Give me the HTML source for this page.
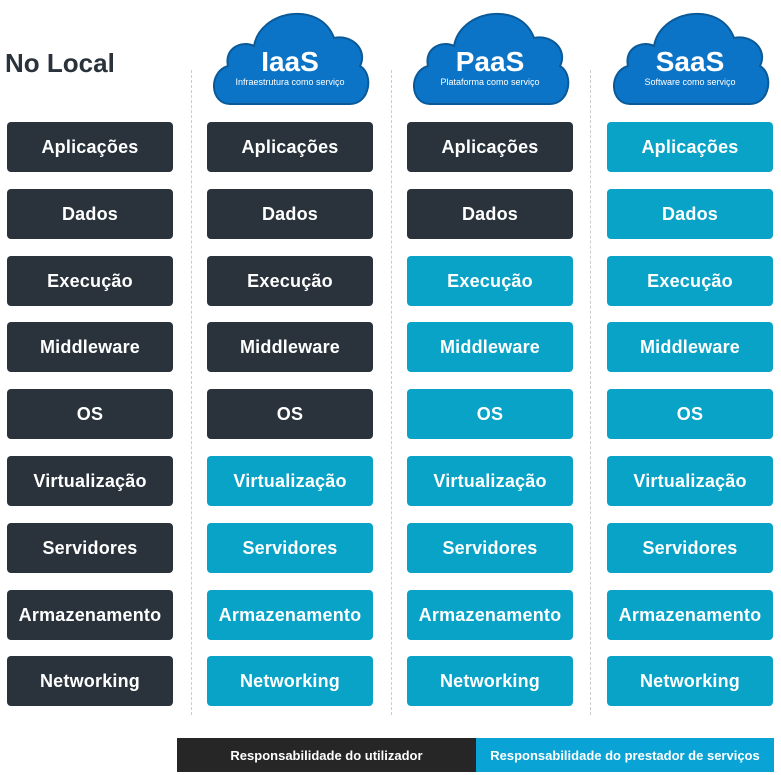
<!DOCTYPE html>
<html><head><meta charset="utf-8"><style>
body{margin:0;width:781px;height:775px;background:#fff;position:relative;overflow:hidden;font-family:"Liberation Sans","DejaVu Sans",sans-serif}
.b{position:absolute;width:166px;height:50px;border-radius:4px;color:#fff;font-weight:bold;font-size:18px;display:flex;align-items:center;justify-content:center;letter-spacing:0.2px}
.d{background:#2a333b}.l{background:#0aa3c8}
.v{position:absolute;top:70px;height:645px;border-left:1px dashed #ccc}
.nl{position:absolute;left:5px;top:48px;font-size:26px;font-weight:bold;color:#2a333b}
.leg{position:absolute;top:738px;height:34px;display:flex;align-items:center;justify-content:center;color:#fff;font-weight:bold;font-size:13px}
</style></head><body>
<div class="nl">No Local</div>
<div class="v" style="left:191px"></div><div class="v" style="left:391px"></div><div class="v" style="left:590px"></div>
<svg style="position:absolute;left:0;top:0" width="781" height="110">
<defs><g id="c"><path d="M-60,100 C-80,100 -82,68 -62,62 C-66,44 -48,36 -36,42 C-30,6 30,-4 44,34 C62,30 78,46 70,62 C84,70 80,100 60,100 Z" fill="#0b74c6" stroke="#0a5a9a" stroke-width="2"/></g></defs>
<use href="#c" x="290" y="4"/><use href="#c" x="490" y="4"/><use href="#c" x="690" y="4"/>
<g fill="#fff" font-family="Liberation Sans,sans-serif" text-anchor="middle">
<text x="290" y="71" font-size="28" font-weight="bold">IaaS</text><text x="290" y="85" font-size="9">Infraestrutura como serviço</text>
<text x="490" y="71" font-size="28" font-weight="bold">PaaS</text><text x="490" y="85" font-size="9">Plataforma como serviço</text>
<text x="690" y="71" font-size="28" font-weight="bold">SaaS</text><text x="690" y="85" font-size="9">Software como serviço</text>
</g></svg>
<div id="g"></div>
<div class="leg" style="left:177px;width:299px;background:#262626">Responsabilidade do utilizador</div>
<div class="leg" style="left:476px;width:298px;background:#0aa3d6">Responsabilidade do prestador de serviços</div>
<script>
var rows=["Aplicações","Dados","Execução","Middleware","OS","Virtualização","Servidores","Armazenamento","Networking"];
var xs=[7,207,407,607],dark=[9,5,2,0],h="";
for(var c=0;c<4;c++)for(var r=0;r<9;r++){
h+='<div class="b '+(r<dark[c]?'d':'l')+'" style="left:'+xs[c]+'px;top:'+(122+r*66.8).toFixed(0)+'px">'+rows[r]+'</div>';}
document.getElementById('g').innerHTML=h;
</script>
</body></html>
